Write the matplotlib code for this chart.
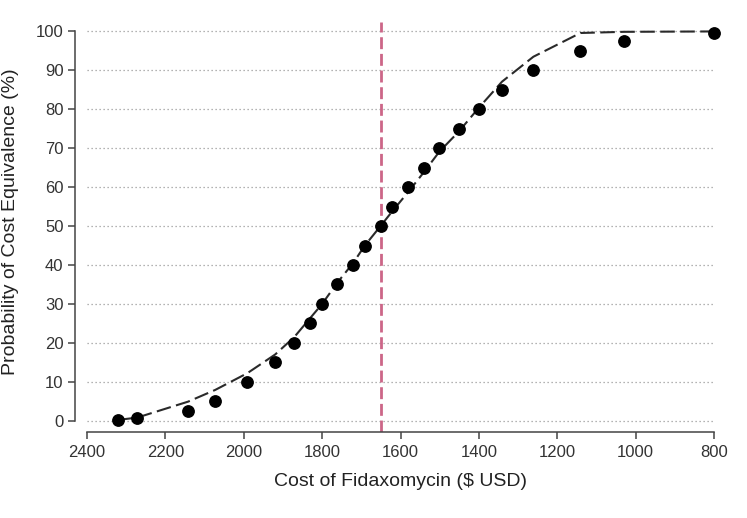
import matplotlib
matplotlib.use("Agg")
import matplotlib.pyplot as plt

plt.rcParams["font.family"] = ["Liberation Sans", "DejaVu Sans"]

# observed points: fidaxomycin cost vs probability of cost equivalence
cost = [2321, 2272, 2142, 2073, 1991, 1920, 1871, 1831, 1800, 1761, 1721, 1691,
        1651, 1621, 1580, 1540, 1501, 1452, 1401, 1341, 1261, 1141, 1030, 800]
prob = [0.3, 0.6, 2.5, 5, 10, 15, 20, 25, 30, 35, 40, 45,
        50, 55, 60, 65, 70, 75, 80, 85, 90, 95, 97.5, 99.5]
# fitted curve values at the same costs
fit = [0.2, 0.8, 4.9, 7.9, 12.2, 17.0, 21.5, 26.3, 30.0, 35.5, 40.5, 45.0,
       50.0, 53.8, 58.8, 63.9, 69.1, 74.2, 80.3, 87.1, 93.5, 99.6, 99.9, 100]
threshold = 1651
yticks = [0, 10, 20, 30, 40, 50, 60, 70, 80, 90, 100]
xticks = [2400, 2200, 2000, 1800, 1600, 1400, 1200, 1000, 800]

W, H = 747, 518
fig = plt.figure(figsize=(W / 100, H / 100), dpi=100)
ax = fig.add_axes([75 / W, (H - 432) / H, (730 - 75) / W, (432 - 21.7) / H])
ax.set_xlim(2430.6, 759.3)
ax.set_ylim(-2.9, 102.5)

# dotted grid
ax.hlines(yticks, xticks[0], xticks[-1], colors="#9a9a9a", linestyles=(0, (1, 2.2)), lw=0.9, zorder=1)

ax.plot(cost, fit, color="#2a2a2a", lw=1.5, dashes=(7, 2.6), zorder=2)
ax.plot(cost, prob, "o", color="black", ms=8.2, zorder=3)
ax.axvline(threshold, color="#cc6688", lw=2, dashes=(4.3, 1.7), zorder=2)

for s in ["top", "right"]:
    ax.spines[s].set_visible(False)
ax.spines["left"].set_bounds(0, 100)
ax.spines["bottom"].set_bounds(2400, 800)
for s in ["left", "bottom"]:
    ax.spines[s].set_color("#444444")
    ax.spines[s].set_linewidth(1.1)

ax.set_yticks(yticks)
ax.set_xticks(xticks)
ax.tick_params(axis="both", colors="#444444", labelcolor="#333333", labelsize=12,
               length=4.7, width=1.1)
ax.tick_params(axis="x", pad=5)
ax.tick_params(axis="y", pad=3.6)

fig.text(400 / W, 1 - 486 / H, "Cost of Fidaxomycin ($ USD)", fontsize=14,
         color="#222222", ha="center", va="baseline")
fig.text(11 / W, 1 - 221.5 / H, "Probability of Cost Equivalence (%)", fontsize=14,
         color="#222222", ha="center", va="center", rotation=90)

fig.savefig("out.png", dpi=100, facecolor="white")
